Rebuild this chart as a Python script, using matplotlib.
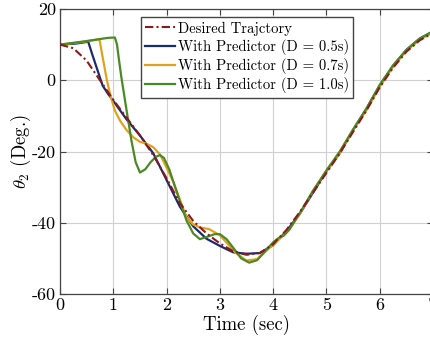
import matplotlib
matplotlib.use('Agg')
import matplotlib.pyplot as plt

plt.rcParams['font.family'] = 'serif'
plt.rcParams['font.serif'] = ['cmr10', 'DejaVu Serif']
plt.rcParams['mathtext.fontset'] = 'cm'
plt.rcParams['axes.unicode_minus'] = False
plt.rcParams['axes.formatter.use_mathtext'] = False

# desired trajectory
t_des = [0, 0.25, 0.5, 0.75, 1.0, 1.25, 1.5, 1.75, 2.0, 2.25, 2.5, 2.75, 3.0, 3.25,
         3.5, 3.75, 4.0, 4.25, 4.5, 4.75, 5.0, 5.25, 5.5, 5.75, 6.0, 6.25, 6.5, 6.75, 7.0]
y_des = [10, 9, 5.5, 0, -5.5, -10.5, -15.5, -21, -27.5, -34.5, -39.5, -43, -45.8, -48,
         -49, -48.5, -46, -42, -37, -31.5, -26, -20.5, -14.5, -8.5, -2, 3.5, 8, 11.2, 13.3]

# predictor D = 0.5s
t_05 = [0, 0.3, 0.53, 0.6, 0.7, 0.8, 0.9, 1.0, 1.25, 1.5, 1.75, 2.0, 2.25, 2.5, 2.75,
        3.0, 3.25, 3.5, 3.75, 4.0, 4.25, 4.5, 4.75, 5.0, 5.25, 5.5, 5.75, 6.0, 6.25,
        6.5, 6.75, 7.0]
y_05 = [10, 10.3, 10.8, 7.5, 3, -1.5, -3.8, -5.8, -11, -15.5, -20.5, -28, -35.5, -41,
        -44.5, -46.5, -48.3, -48.7, -48.5, -46.3, -42.3, -37.5, -31.5, -25.5, -20.5,
        -14, -8, -1.5, 4, 8.5, 11.7, 13.6]

# predictor D = 0.7s
t_07 = [0, 0.4, 0.74, 0.8, 0.88, 0.95, 1.03, 1.125, 1.25, 1.375, 1.5, 1.625, 1.75,
        1.875, 2.0, 2.125, 2.25, 2.375, 2.5, 2.625, 2.8, 3.0, 3.15, 3.3, 3.5, 3.7,
        3.9, 4.1, 4.3, 4.5, 4.75, 5.0, 5.25, 5.5, 5.75, 6.0, 6.25, 6.5, 6.75, 7.0]
y_07 = [10, 10.7, 11.5, 6.5, 0, -4.5, -8.5, -11.3, -14, -16, -17.3, -17.8, -18.8,
        -20.8, -24.5, -28.5, -33.5, -38.5, -40.5, -41.3, -41.8, -43.5, -46, -48.5,
        -50.6, -50.2, -47.5, -44.8, -42, -37.5, -31, -25.5, -20.5, -14, -8.5, -1.8,
        3.8, 8.2, 11.4, 13.4]

# predictor D = 1.0s
t_10 = [0, 0.5, 0.9, 1.03, 1.07, 1.1, 1.15, 1.25, 1.34, 1.42, 1.5, 1.6, 1.7, 1.8,
        1.875, 1.95, 2.05, 2.15, 2.25, 2.375, 2.5, 2.625, 2.75, 2.9, 3.0, 3.125, 3.25,
        3.4, 3.55, 3.7, 3.85, 4.0, 4.1, 4.2, 4.3, 4.5, 4.75, 5.0, 5.25, 5.5, 5.75,
        6.0, 6.25, 6.5, 6.75, 7.0]
y_10 = [10, 11, 11.9, 12, 10, 6.5, 1, -8.5, -16.9, -23, -25.9, -25, -23, -21.5, -21,
        -21.8, -25, -29.5, -34, -39.4, -43, -44.6, -44, -43.2, -43.2, -44.6, -47, -50,
        -51.2, -50.5, -48, -45.5, -44.3, -43.6, -42, -37.3, -31, -25.3, -20, -13.8,
        -8, -1.3, 4.2, 8.5, 11.7, 13.8]

fig = plt.figure(figsize=(4.31, 3.45), dpi=100)
ax = fig.add_axes([60 / 431, 51 / 345, 373 / 431, 285 / 345])

ax.plot(t_des, y_des, color='#8b1a1a', lw=1.5, dashes=(4, 1.5, 1, 1.5),
        label='Desired Trajctory', zorder=5)
ax.plot(t_05, y_05, color='#1b2a6e', lw=1.6, label='With Predictor (D = 0.5s)')
ax.plot(t_07, y_07, color='#e0a21e', lw=1.6, label='With Predictor (D = 0.7s)')
ax.plot(t_10, y_10, color='#4a8a25', lw=1.6, label='With Predictor (D = 1.0s)')

ax.set_xlim(0, 7)
ax.set_ylim(-60, 20)
ax.set_xticks(range(0, 8))
ax.set_yticks([-60, -40, -20, 0, 20])
ax.grid(True, color='#d0d0d0', lw=0.8)
ax.set_axisbelow(True)
ax.tick_params(direction='in', top=True, right=True, labelsize=13, length=4,
               color='#444444', pad=3)
for s in ax.spines.values():
    s.set_color('#444444')
    s.set_linewidth(0.9)

ax.set_xlabel('Time (sec)', fontsize=13.5, labelpad=1)
ax.set_ylabel(r'$\theta_2$ (Deg.)', fontsize=13.5, labelpad=-1)

ax.legend(loc='upper left', bbox_to_anchor=(0.217, 0.972), borderaxespad=0,
          fontsize=10.6, fancybox=False, edgecolor='#444444', framealpha=1,
          handlelength=2.0, handletextpad=0.2, labelspacing=0.22, borderpad=0.3)

fig.savefig('out.png', dpi=100)
